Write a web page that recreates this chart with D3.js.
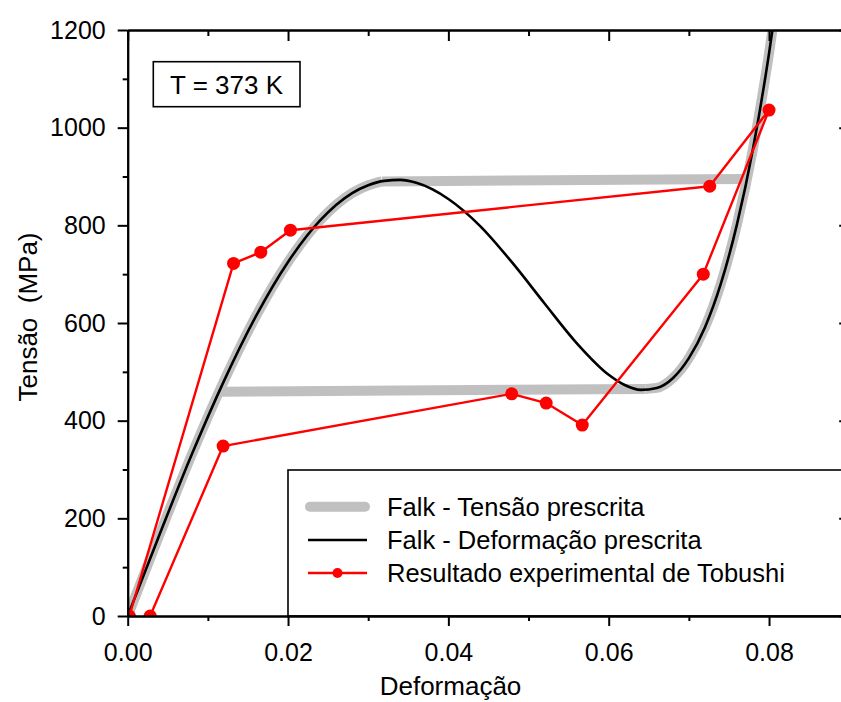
<!DOCTYPE html>
<html>
<head>
<meta charset="utf-8">
<script src="https://cdn.jsdelivr.net/npm/d3@7"></script>
<style>
  html, body { margin: 0; padding: 0; background: #ffffff; }
  svg text { font-family: "Liberation Sans", Arial, sans-serif; fill: #000; }
</style>
</head>
<body>
<svg id="chart" width="841" height="702"></svg>
<script>
// Falk model, strain-prescribed curve (strain, stress in MPa)
const strainFalk = [0, 0.004, 0.008, 0.012, 0.016, 0.020, 0.024, 0.028, 0.030, 0.032, 0.034, 0.036, 0.040, 0.044, 0.048, 0.052, 0.056, 0.060, 0.062, 0.064, 0.066, 0.068, 0.070, 0.072, 0.074, 0.076, 0.078, 0.080, 0.081];
const stressFalk = [0, 168, 331, 481, 614, 725, 810, 866, 882, 891, 893, 887, 854, 798, 723, 640, 559, 494, 473, 463, 467, 487, 528, 591, 681, 802, 957, 1152, 1266];

// Falk model, stress-prescribed: stable branches (low and high strain)
const strainBranchA = [0, 0.004, 0.008, 0.012, 0.016, 0.020, 0.024, 0.028, 0.030, 0.0317];
const stressBranchA = [0, 168, 331, 481, 614, 725, 810, 866, 882, 890];
const strainBranchM = [0.0646, 0.066, 0.068, 0.070, 0.072, 0.074, 0.076, 0.078, 0.080, 0.081];
const stressBranchM = [465, 467, 487, 528, 591, 681, 802, 957, 1152, 1266];
// jumps between branches: loading (upper) and unloading (lower)
const strainJumpUp = [0.0317, 0.0768];
const stressJumpUp = [890, 895];
const strainJumpDown = [0.0113, 0.0646];
const stressJumpDown = [459, 465];

// Tobushi experimental results, in test order
const strainExp = [0.0002, 0.0132, 0.0166, 0.0203, 0.0726, 0.0800, 0.0718, 0.0567, 0.0522, 0.0479, 0.0119, 0.0028];
const stressExp = [0, 722, 745, 790, 880, 1036, 700, 391, 436, 455, 348, 0];

const xTicks = [0, 0.02, 0.04, 0.06, 0.08];
const xMinor = [0.01, 0.03, 0.05, 0.07, 0.09];
const yTicks = [0, 200, 400, 600, 800, 1000, 1200];
const yMinor = [100, 300, 500, 700, 900, 1100];

const legendLabels = ["Falk - Tensão prescrita", "Falk - Deformação prescrita", "Resultado experimental de Tobushi"];

const svg = d3.select("#chart");
const plotLeft = 127.7, plotRight = 849.2, plotTop = 30, plotBottom = 616;

const x = d3.scaleLinear().domain([0, 0.09]).range([plotLeft, plotRight]);
const y = d3.scaleLinear().domain([0, 1200]).range([plotBottom, plotTop]);

svg.append("rect").attr("width", 841).attr("height", 702).attr("fill", "#fff");

svg.append("defs").append("clipPath").attr("id", "plotClip")
  .append("rect").attr("x", plotLeft).attr("y", plotTop)
  .attr("width", plotRight - plotLeft).attr("height", plotBottom - plotTop);

const plot = svg.append("g").attr("clip-path", "url(#plotClip)");

const zip = (xs, ys) => xs.map((v, i) => [v, ys[i]]);
const smooth = d3.line().x(d => x(d[0])).y(d => y(d[1])).curve(d3.curveMonotoneX);
const straight = d3.line().x(d => x(d[0])).y(d => y(d[1]));

// stress-prescribed path (thick grey)
const grey = "#c0c0c0";
[zip(strainBranchA, stressBranchA), zip(strainBranchM, stressBranchM)].forEach(pts => {
  plot.append("path").attr("d", smooth(pts))
    .attr("fill", "none").attr("stroke", grey).attr("stroke-width", 10);
});
[zip(strainJumpUp, stressJumpUp), zip(strainJumpDown, stressJumpDown)].forEach(pts => {
  plot.append("path").attr("d", straight(pts))
    .attr("fill", "none").attr("stroke", grey).attr("stroke-width", 10);
});

// strain-prescribed curve (black)
plot.append("path").attr("d", smooth(zip(strainFalk, stressFalk)))
  .attr("fill", "none").attr("stroke", "#000").attr("stroke-width", 2.6);

// experimental points (red)
const expPts = zip(strainExp, stressExp);
plot.append("path").attr("d", straight(expPts))
  .attr("fill", "none").attr("stroke", "#ff0000").attr("stroke-width", 2.4)
  .attr("stroke-linejoin", "round");
plot.selectAll("circle.exp").data(expPts).enter().append("circle")
  .attr("class", "exp")
  .attr("cx", d => x(d[0])).attr("cy", d => y(d[1])).attr("r", 6.5)
  .attr("fill", "#ff0000");

// legend
const lg = svg.append("g");
lg.append("rect").attr("x", 288).attr("y", 470).attr("width", 600).attr("height", plotBottom - 470)
  .attr("fill", "#fff").attr("stroke", "#000").attr("stroke-width", 1.6);
const legY = [506.7, 540, 573];
lg.append("line").attr("x1", 310).attr("x2", 365).attr("y1", legY[0]).attr("y2", legY[0])
  .attr("stroke", grey).attr("stroke-width", 10).attr("stroke-linecap", "round");
lg.append("line").attr("x1", 308).attr("x2", 367).attr("y1", legY[1]).attr("y2", legY[1])
  .attr("stroke", "#000").attr("stroke-width", 2.6);
lg.append("line").attr("x1", 308).attr("x2", 367).attr("y1", legY[2]).attr("y2", legY[2])
  .attr("stroke", "#ff0000").attr("stroke-width", 2.4);
lg.append("circle").attr("cx", 337.5).attr("cy", legY[2]).attr("r", 5).attr("fill", "#ff0000");
lg.selectAll("text").data(legendLabels).enter().append("text")
  .attr("x", 387).attr("y", (d, i) => legY[i]).attr("dy", "0.35em")
  .attr("font-size", 25.5).text(d => d);

// temperature box
svg.append("rect").attr("x", 153.3).attr("y", 61.7).attr("width", 146.7).attr("height", 45)
  .attr("fill", "#fff").attr("stroke", "#000").attr("stroke-width", 1.6);
svg.append("text").attr("x", 226.5).attr("y", 94.3).attr("text-anchor", "middle")
  .attr("font-size", 26).text("T = 373 K");

// axes
function styleAxis(g) {
  g.select(".domain").attr("stroke", "#000").attr("stroke-width", 2);
  g.selectAll(".tick line").attr("stroke", "#000").attr("stroke-width", 2);
  g.selectAll(".tick text").attr("font-size", 25).attr("fill", "#000")
    .attr("font-family", "'Liberation Sans', Arial, sans-serif");
}

// left
svg.append("g").attr("transform", `translate(${plotLeft},0)`)
  .call(d3.axisLeft(y).tickValues(yMinor).tickSize(5).tickSizeOuter(0).tickFormat(""))
  .call(styleAxis);
svg.append("g").attr("transform", `translate(${plotLeft},0)`)
  .call(d3.axisLeft(y).tickValues(yTicks).tickSize(10).tickSizeOuter(0).tickPadding(12).tickFormat(d3.format("d")))
  .call(styleAxis);
// right (inward ticks)
svg.append("g").attr("transform", `translate(${plotRight},0)`)
  .call(d3.axisLeft(y).tickValues(yMinor).tickSize(5).tickSizeOuter(0).tickFormat(""))
  .call(styleAxis);
svg.append("g").attr("transform", `translate(${plotRight},0)`)
  .call(d3.axisLeft(y).tickValues(yTicks).tickSize(10).tickSizeOuter(0).tickFormat(""))
  .call(styleAxis);
// bottom
svg.append("g").attr("transform", `translate(0,${plotBottom})`)
  .call(d3.axisBottom(x).tickValues(xMinor).tickSize(5).tickSizeOuter(0).tickFormat(""))
  .call(styleAxis);
svg.append("g").attr("transform", `translate(0,${plotBottom})`)
  .call(d3.axisBottom(x).tickValues(xTicks).tickSize(10).tickSizeOuter(0).tickPadding(17).tickFormat(d3.format(".2f")))
  .call(styleAxis);
// top (inward ticks)
svg.append("g").attr("transform", `translate(0,${plotTop})`)
  .call(d3.axisBottom(x).tickValues(xMinor).tickSize(6).tickSizeOuter(0).tickFormat(""))
  .call(styleAxis);
svg.append("g").attr("transform", `translate(0,${plotTop})`)
  .call(d3.axisBottom(x).tickValues(xTicks).tickSize(11).tickSizeOuter(0).tickFormat(""))
  .call(styleAxis);

// axis titles
svg.append("text").attr("x", 450.5).attr("y", 695).attr("text-anchor", "middle")
  .attr("font-size", 26).text("Deformação");
svg.append("text").attr("transform", "translate(36.5,317) rotate(-90)")
  .attr("text-anchor", "middle").attr("font-size", 26)
  .style("white-space", "pre").text("Tensão  (MPa)");
</script>
</body>
</html>
